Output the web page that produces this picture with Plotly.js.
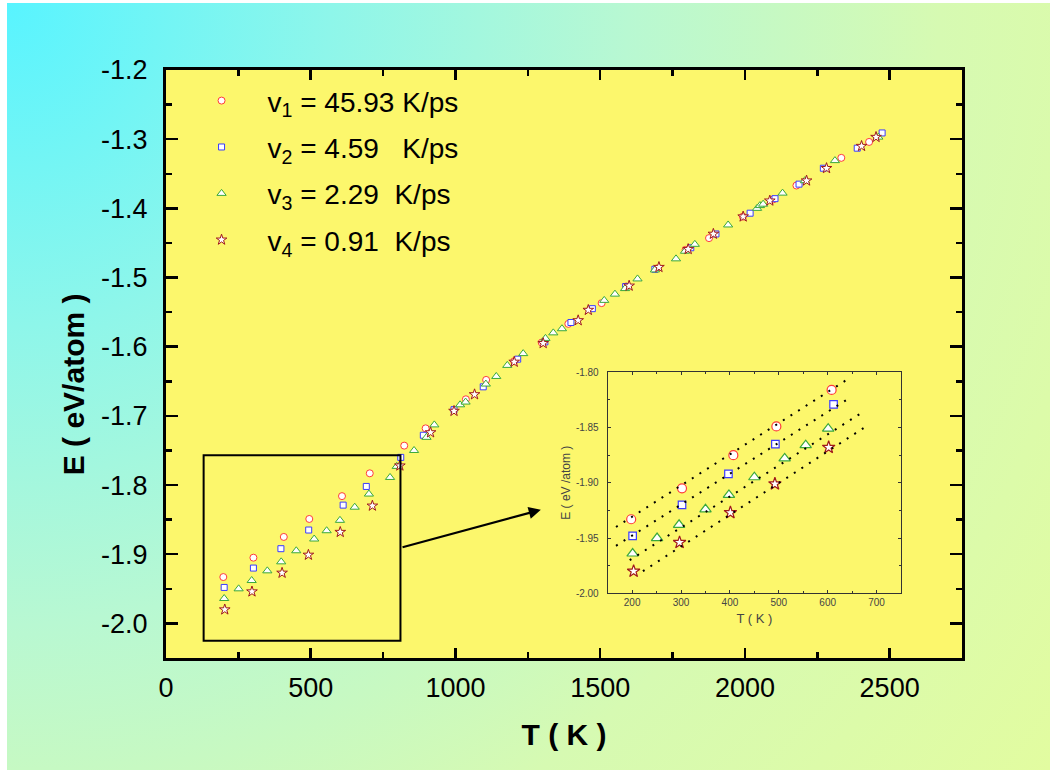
<!DOCTYPE html>
<html>
<head>
<meta charset="utf-8">
<script src="https://cdn.plot.ly/plotly-3.0.1.min.js"></script>
<style>
  html, body { margin: 0; padding: 0; background: #ffffff; }
  #bg { position: absolute; left: 7px; top: 3px; width: 1043px; height: 767px;
        background: radial-gradient(circle farthest-corner at 0% 0%, #58F4FF 0%, #8EF6EA 25%, #B8F8D2 48%, #D6FAB2 72%, #E2FCA0 100%); }
  #plot { position: absolute; left: 0; top: 0; width: 1057px; height: 774px; }
</style>
</head>
<body>
<div id="bg"></div>
<div id="plot"></div>
<script>
// ---- data ----
const v1T = [198,302,407,495,608,704,823,897,1036,1106,1203,1298,1390,1505,1590,1695,1795,1876,1993,2098,2178,2333,2429];
const v1E = [-1.933,-1.905,-1.875,-1.849,-1.816,-1.783,-1.743,-1.718,-1.676,-1.648,-1.621,-1.594,-1.567,-1.537,-1.513,-1.487,-1.460,-1.443,-1.412,-1.387,-1.367,-1.327,-1.304];

const v2T = [201,302,397,493,612,692,811,889,995,1096,1215,1309,1399,1473,1588,1689,1813,1900,2018,2104,2187,2271,2388,2474];
const v2E = [-1.948,-1.920,-1.892,-1.865,-1.829,-1.802,-1.760,-1.728,-1.691,-1.658,-1.618,-1.593,-1.565,-1.545,-1.513,-1.488,-1.457,-1.437,-1.407,-1.386,-1.365,-1.342,-1.313,-1.291];

const v3T = [201,251,296,350,398,450,512,555,601,652,701,774,797,857,900,927,1016,1035,1105,1141,1179,1234,1311,1338,1368,1514,1551,1586,1629,1689,1762,1793,1827,1942,2042,2052,2063,2130,2207,2311,2461];
const v3E = [-1.964,-1.950,-1.938,-1.924,-1.911,-1.895,-1.878,-1.866,-1.851,-1.832,-1.813,-1.789,-1.773,-1.750,-1.731,-1.713,-1.684,-1.680,-1.654,-1.643,-1.627,-1.610,-1.588,-1.580,-1.574,-1.533,-1.524,-1.516,-1.502,-1.489,-1.473,-1.462,-1.452,-1.424,-1.400,-1.396,-1.394,-1.378,-1.360,-1.331,-1.297];

const v4T = [203,297,401,492,602,713,808,914,995,1066,1203,1303,1424,1459,1600,1703,1804,1891,1994,2086,2213,2282,2403,2453];
const v4E = [-1.980,-1.954,-1.927,-1.901,-1.868,-1.830,-1.772,-1.724,-1.693,-1.669,-1.622,-1.595,-1.562,-1.547,-1.512,-1.485,-1.459,-1.437,-1.412,-1.389,-1.360,-1.342,-1.310,-1.297];

// dotted guide lines in the inset (end points)
const fit1T = [167, 642], fit1E = [-1.940, -1.806];
const fit2T = [167, 644], fit2E = [-1.957, -1.8235];
const fit3T = [195, 672], fit3E = [-1.970, -1.836];
const fit4T = [222, 682], fit4E = [-1.980, -1.848];

const seriesNames = ['v<sub>1</sub> = 45.93 K/ps',
                     'v<sub>2</sub> = 4.59\u00A0\u00A0\u00A0K/ps',
                     'v<sub>3</sub> = 2.29\u00A0\u00A0K/ps',
                     'v<sub>4</sub> = 0.91\u00A0\u00A0K/ps'];

const mainXTicks = [0, 500, 1000, 1500, 2000, 2500];
const mainXLabels = ['0', '500', '1000', '1500', '2000', '2500'];
const mainYTicks = [-2.0, -1.9, -1.8, -1.7, -1.6, -1.5, -1.4, -1.3, -1.2];
const mainYLabels = ['-2.0', '-1.9', '-1.8', '-1.7', '-1.6', '-1.5', '-1.4', '-1.3', '-1.2'];
const insetXTicks = [200, 300, 400, 500, 600, 700];
const insetXLabels = ['200', '300', '400', '500', '600', '700'];
const insetYTicks = [-2.00, -1.95, -1.90, -1.85, -1.80];
const insetYLabels = ['-2.00', '-1.95', '-1.90', '-1.85', '-1.80'];

// zoom box & arrow (data coordinates of main axes)
const zoomBoxT = [130, 810], zoomBoxE = [-2.025, -1.757];
const arrowFromT = 812, arrowFromE = -1.8905, arrowToT = 1295, arrowToE = -1.8357;
const insetMaxT = 650;

// ---- styles ----
const colors = ['#FF3B3B', '#3B3BFF', '#3AA83A', '#A01818'];
const symbols = ['circle', 'square', 'triangle-up', 'star'];
const mainSizes = [7, 6, 8, 8];
const insetSizes = [9, 7.5, 10, 9.5];
const allT = [v1T, v2T, v3T, v4T];
const allE = [v1E, v2E, v3E, v4E];
const fitsT = [fit1T, fit2T, fit3T, fit4T];
const fitsE = [fit1E, fit2E, fit3E, fit4E];

const FONT = 'Liberation Sans, Arial, sans-serif';
const traces = [];
for (let i = 0; i < 4; i++) {
  traces.push({
    x: allT[i], y: allE[i], type: 'scatter', mode: 'markers',
    name: seriesNames[i], legendgroup: 'g' + i,
    marker: { symbol: symbols[i], size: mainSizes[i], color: '#FFFFFF',
              line: { color: colors[i], width: 1 } },
    xaxis: 'x', yaxis: 'y', hoverinfo: 'x+y'
  });
}
for (let i = 0; i < 4; i++) {
  const xs = [], ys = [];
  allT[i].forEach((t, k) => { if (t < insetMaxT) { xs.push(t); ys.push(allE[i][k]); } });
  traces.push({
    x: xs, y: ys, type: 'scatter', mode: 'markers', showlegend: false,
    marker: { symbol: symbols[i], size: insetSizes[i], color: '#FFFFFF',
              line: { color: colors[i], width: 1.2 } },
    xaxis: 'x2', yaxis: 'y2', cliponaxis: false
  });
}
for (let i = 0; i < 4; i++) {
  traces.push({
    x: fitsT[i], y: fitsE[i], type: 'scatter', mode: 'lines', showlegend: false,
    line: { color: '#000000', width: 2, dash: '2px,7px' },
    xaxis: 'x2', yaxis: 'y2', cliponaxis: false
  });
}

const layout = {
  width: 1057, height: 774,
  margin: { l: 166, r: 95, t: 70, b: 116, pad: 0 },
  paper_bgcolor: 'rgba(0,0,0,0)',
  plot_bgcolor: '#FCF76C',
  font: { family: FONT, color: '#000000' },
  showlegend: true,
  legend: {
    x: 0.012, xanchor: 'left', y: 0.99, yanchor: 'top',
    bgcolor: 'rgba(0,0,0,0)', borderwidth: 0,
    font: { family: FONT, size: 28, color: '#000000' },
    itemwidth: 82, tracegroupgap: 7, traceorder: 'grouped', itemsizing: 'trace'
  },
  xaxis: {
    domain: [0, 1], range: [0, 2750], anchor: 'y',
    tickmode: 'array', tickvals: mainXTicks, ticktext: mainXLabels,
    ticks: 'inside', ticklen: 10, tickwidth: 2.5, tickcolor: '#000',
    minor: { tickmode: 'linear', tick0: 0, dtick: 250, ticks: 'inside', ticklen: 6, tickwidth: 2.5, tickcolor: '#000' },
    showline: true, linecolor: '#000', linewidth: 3, mirror: 'ticks',
    showgrid: false, zeroline: false,
    tickfont: { family: FONT, size: 27, color: '#000' },
    ticklabelstandoff: 4,
    title: { text: 'T ( K )', font: { family: FONT, size: 30, color: '#000', weight: 'bold' }, standoff: 22 }
  },
  yaxis: {
    domain: [0, 1], range: [-2.05, -1.2], anchor: 'x',
    tickmode: 'array', tickvals: mainYTicks, ticktext: mainYLabels,
    ticks: 'inside', ticklen: 12, tickwidth: 2.5, tickcolor: '#000',
    minor: { tickmode: 'linear', tick0: -2.0, dtick: 0.05, ticks: 'inside', ticklen: 6, tickwidth: 2.5, tickcolor: '#000' },
    showline: true, linecolor: '#000', linewidth: 3, mirror: 'ticks',
    showgrid: false, zeroline: false,
    tickfont: { family: FONT, size: 27, color: '#000' },
    ticklabelstandoff: 10
  },
  xaxis2: {
    domain: [0.5549, 0.9234], range: [150, 750], anchor: 'y2',
    tickmode: 'array', tickvals: insetXTicks, ticktext: insetXLabels,
    ticks: 'inside', ticklen: 3, tickwidth: 1, tickcolor: '#333',
    minor: { tickmode: 'linear', tick0: 0, dtick: 50, ticks: 'inside', ticklen: 2, tickwidth: 1, tickcolor: '#333' },
    showline: true, linecolor: '#333', linewidth: 1, mirror: 'ticks',
    showgrid: false, zeroline: false,
    tickfont: { family: FONT, size: 10, color: '#444' },
    title: { text: 'T ( K )', font: { family: FONT, size: 13, color: '#444' }, standoff: 6 }
  },
  yaxis2: {
    domain: [0.110, 0.486], range: [-2.0, -1.8], anchor: 'x2',
    tickmode: 'array', tickvals: insetYTicks, ticktext: insetYLabels,
    ticks: 'inside', ticklen: 3, tickwidth: 1, tickcolor: '#333',
    minor: { tickmode: 'linear', tick0: -2.0, dtick: 0.025, ticks: 'inside', ticklen: 2, tickwidth: 1, tickcolor: '#333' },
    showline: true, linecolor: '#333', linewidth: 1, mirror: 'ticks',
    showgrid: false, zeroline: false,
    tickfont: { family: FONT, size: 10, color: '#444' },
    ticklabelstandoff: 6,
    title: { text: 'E ( eV /atom )', font: { family: FONT, size: 12, color: '#444' }, standoff: 2 }
  },
  shapes: [{
    type: 'rect', xref: 'x', yref: 'y',
    x0: zoomBoxT[0], x1: zoomBoxT[1], y0: zoomBoxE[0], y1: zoomBoxE[1],
    line: { color: '#000', width: 2 }, fillcolor: 'rgba(0,0,0,0)', layer: 'above'
  }],
  annotations: [
    {
      xref: 'x', yref: 'y', axref: 'x', ayref: 'y',
      x: arrowToT, y: arrowToE, ax: arrowFromT, ay: arrowFromE,
      text: '', showarrow: true, arrowhead: 2, arrowsize: 1.1, arrowwidth: 2.2, arrowcolor: '#000'
    },
    {
      xref: 'paper', yref: 'paper', x: -0.116, y: 0.465, xanchor: 'center', yanchor: 'middle',
      text: 'E ( eV/atom )', textangle: -90, showarrow: false,
      font: { family: FONT, size: 30, color: '#000', weight: 'bold' }
    }
  ]
};

Plotly.newPlot('plot', traces, layout, { displayModeBar: false, staticPlot: true });
</script>
</body>
</html>
